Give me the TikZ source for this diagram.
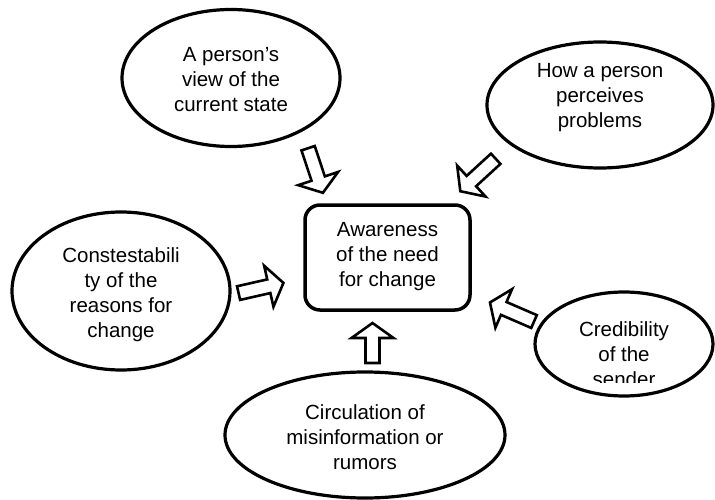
\documentclass[tikz,border=0pt]{standalone}
\usepackage{fontspec}
\setmainfont{Liberation Sans}
\usetikzlibrary{shapes.geometric}
\begin{document}
\begin{tikzpicture}[x=1pt,y=-1pt,
  bubble/.style={draw, ellipse, line width=3.2pt, inner sep=0pt},
  txt/.style={align=center, font=\fontsize{20.5}{25}\selectfont, inner sep=0pt},
  core/.style={draw, rounded corners=15pt, line width=3.5pt, inner sep=0pt},
  arrowlen/.store in=\arrlen, arrowlen=46,
  blockarrow/.pic={\draw[line width=2.6pt, line join=miter, fill=white]
    (-\arrlen/2,-7) -- (\arrlen/2-15,-7) -- (\arrlen/2-15,-21) -- (\arrlen/2,0)
    -- (\arrlen/2-15,21) -- (\arrlen/2-15,7) -- (-\arrlen/2,7) -- cycle;}
]
\useasboundingbox (0,0) rectangle (715,500);

% central box
\node[core, minimum width=165pt, minimum height=105pt] (core) at (387.5,257.5) {};
\node[txt] (tcore) at (387.5,257) {Awareness\\of the need\\for change};

% surrounding factors
\node[bubble, minimum width=218pt, minimum height=137pt] (e1) at (231,78) {};
\node[txt] (t1) at (231,80) {A person’s\\view of the\\current state};

\node[bubble, minimum width=226pt, minimum height=126pt] (e2) at (600,105) {};
\node[txt] (t2) at (600,98) {How a person\\perceives\\problems};

\node[bubble, minimum width=218pt, minimum height=158pt] (e3) at (121,291) {};
\node[txt] (t3) at (121,295) {Constestabili\\ty of the\\reasons for\\change};

\node[bubble, minimum width=178pt, minimum height=104pt] (e4) at (624,344) {};
\begin{scope}
  % the last line is cut off at the bottom of its text frame
  \clip (535,292) rectangle (713,382.5);
  \node[txt] (t4) at (624,354) {Credibility\\of the\\sender};
\end{scope}

\node[bubble, minimum width=280pt, minimum height=126pt] (e5) at (365,435) {};
\node[txt] (t5) at (365,437) {Circulation of\\misinformation or\\rumors};

% hollow block arrows pointing at the box
\pic[rotate=-71.6, arrowlen=47] (a1) at (315.5,170.5) {blockarrow};
\pic[rotate=222.5, arrowlen=48] (a2) at (478,175) {blockarrow};
\pic[rotate=12.8, arrowlen=46] (a3) at (261,288) {blockarrow};
\pic[rotate=90, arrowlen=40] (a4) at (372.5,343) {blockarrow};
\pic[rotate=156.6, arrowlen=48] (a5) at (512,312) {blockarrow};
\end{tikzpicture}
\end{document}
